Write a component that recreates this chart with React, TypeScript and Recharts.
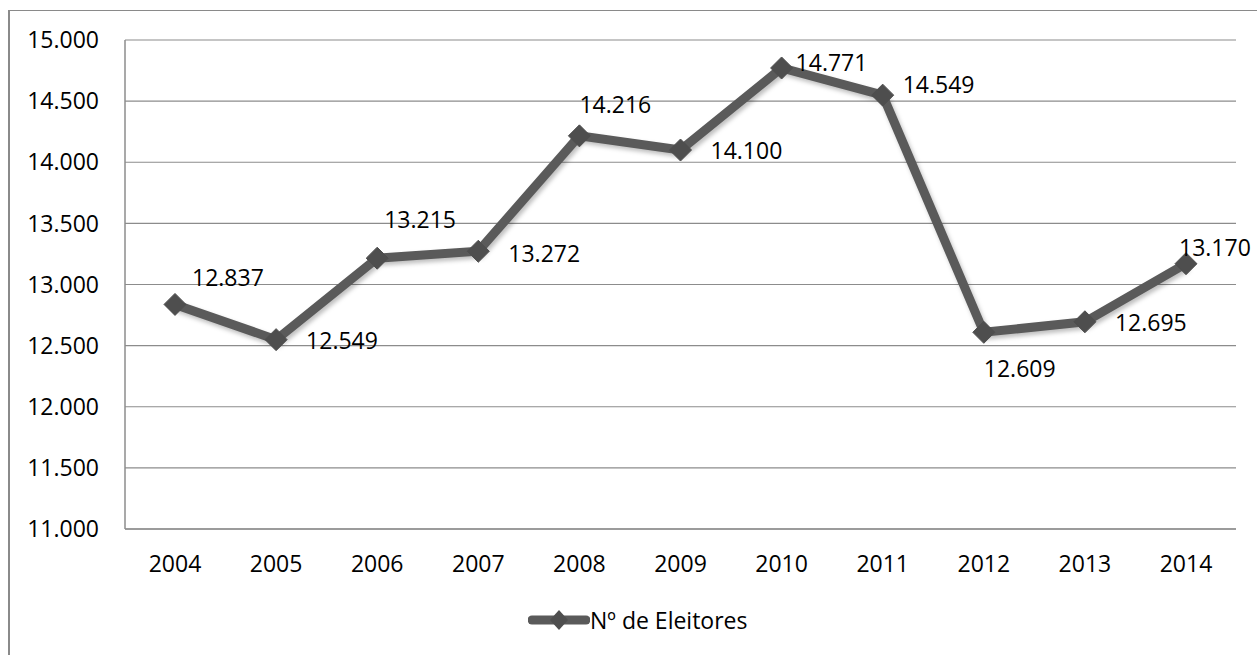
import React from "react";
import { LineChart, Line, XAxis, YAxis, CartesianGrid, Legend, LabelList } from "recharts";

const years = ["2004", "2005", "2006", "2007", "2008", "2009", "2010", "2011", "2012", "2013", "2014"];
const eleitores = [12837, 12549, 13215, 13272, 14216, 14100, 14771, 14549, 12609, 12695, 13170];
const yTicks = [11000, 11500, 12000, 12500, 13000, 13500, 14000, 14500, 15000];
const seriesName = "Nº de Eleitores";

// label placement (style config, relative to point)
const labelOffsets: [number, number][] = [
  [17, -27], [30, 0], [7, -39], [30, 2], [0, -32], [30, 0],
  [14, -6], [20, -11], [0, 36], [30, 0], [-7, -17],
];

const data = years.map((y, i) => ({ year: y, value: eleitores[i] }));

const fmt = (v: number) => String(v).replace(/\B(?=(\d{3})+(?!\d))/g, ".");

const FONT = "'Open Sans', sans-serif";
const LINE = "#5a5a5a";
const MARK = "#4e4e4e";

const Diamond = (props: any) => {
  const { cx, cy } = props;
  if (cx == null || cy == null) return null;
  const r = 11;
  return (
    <path
      d={`M${cx},${cy - r} L${cx + r},${cy} L${cx},${cy + r} L${cx - r},${cy} Z`}
      fill={MARK}
      stroke={MARK}
      strokeWidth={1}
    />
  );
};

const PointLabel = (props: any) => {
  const { x, y, index, value } = props;
  const [dx, dy] = labelOffsets[index] || [10, 0];
  return (
    <text
      x={x + dx}
      y={y + dy}
      textAnchor="start"
      dominantBaseline="central"
      fontFamily={FONT}
      fontSize={23}
      fill="#000"
    >
      {fmt(value)}
    </text>
  );
};

const LegendContent = () => (
  <div style={{ height: 42, display: "flex", alignItems: "center", paddingLeft: 528, fontFamily: FONT, fontSize: 23, color: "#000" }}>
    <svg width={62} height={24} style={{ display: "block" }}>
      <line x1={4} y1={12} x2={58} y2={12} stroke={LINE} strokeWidth={9} strokeLinecap="round" />
      <path d="M31,2 L40,12 L31,22 L22,12 Z" fill={MARK} />
    </svg>
    <span style={{ marginLeft: 0, lineHeight: "42px" }}>{seriesName}</span>
  </div>
);

export default function App() {
  return (
    <div style={{ position: "absolute", left: 0, top: 0, width: 1257, height: 655, overflow: "hidden", background: "#fff" }}>
      <style>{`.recharts-line { filter: drop-shadow(2px 3px 2px rgba(0,0,0,0.25)); }`}</style>
      <div
        style={{
          position: "absolute",
          left: 8,
          top: 10,
          width: 1400,
          height: 800,
          borderTop: "1px solid #8a8a8a",
          borderLeft: "2px solid #8a8a8a",
        }}
      />
      <div style={{ position: "absolute", left: 0, top: 0 }}>
        <LineChart
          width={1257}
          height={655}
          data={data}
          margin={{ top: 40, right: 21, left: 0, bottom: 14 }}
        >
          <CartesianGrid vertical={false} stroke="#8c8c8c" strokeWidth={1.2} />
          <XAxis
            dataKey="year"
            height={70}
            padding={{ left: 50, right: 50 }}
            axisLine={{ stroke: "#8c8c8c", strokeWidth: 1.5 }}
            tickLine={false}
            tickMargin={21}
            tick={{ fontFamily: FONT, fontSize: 23, fill: "#000" }}
            interval={0}
          />
          <YAxis
            width={125}
            domain={[11000, 15000]}
            ticks={yTicks}
            tickFormatter={fmt}
            axisLine={{ stroke: "#8c8c8c", strokeWidth: 1.5 }}
            tickLine={false}
            tickMargin={20}
            tick={{ fontFamily: FONT, fontSize: 23, fill: "#000" }}
            interval={0}
          />
          <Legend verticalAlign="bottom" align="left" content={<LegendContent />} />
          <Line
            type="linear"
            dataKey="value"
            name={seriesName}
            stroke={LINE}
            strokeWidth={9}
            dot={<Diamond />}
            activeDot={false}
            isAnimationActive={false}
          >
            <LabelList dataKey="value" content={<PointLabel />} />
          </Line>
        </LineChart>
      </div>
    </div>
  );
}
